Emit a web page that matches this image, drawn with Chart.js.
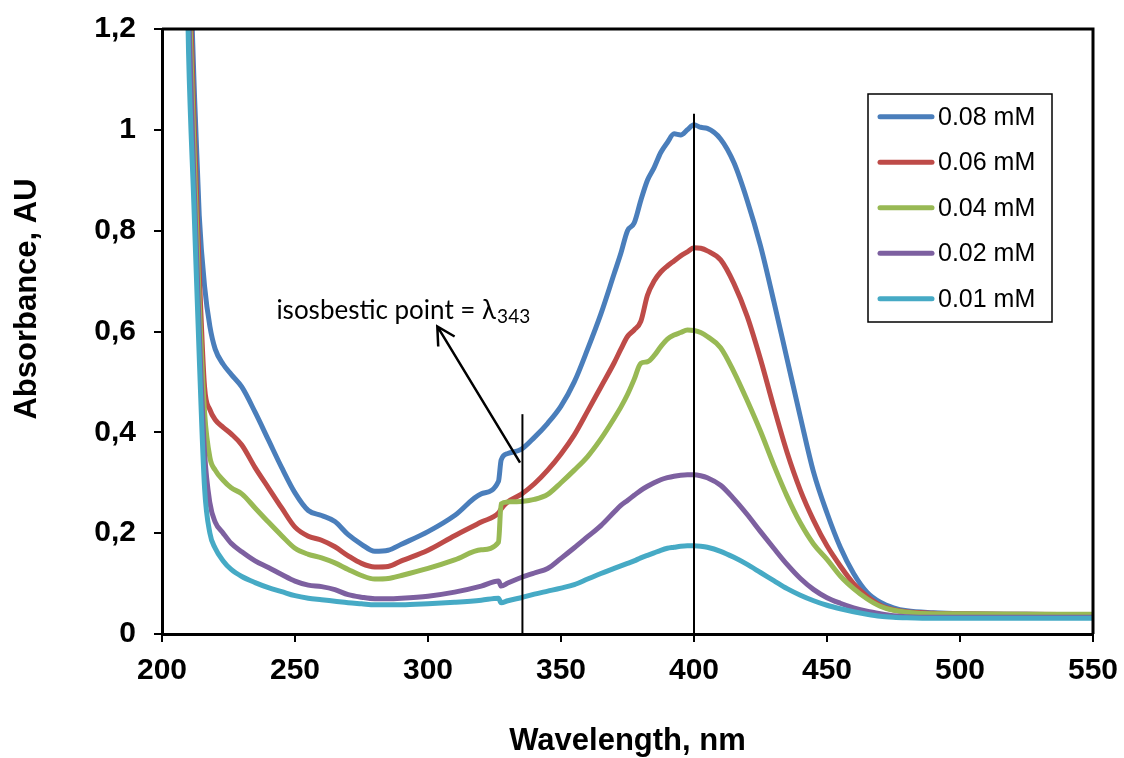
<!DOCTYPE html>
<html lang="en">
<head>
    <meta charset="UTF-8">
    <title>Absorbance vs Wavelength</title>
    <script src="https://cdn.jsdelivr.net/npm/chart.js"></script>
    <style>
        html, body { margin: 0; padding: 0; background: #fff; }
        #wrap { width: 1124px; height: 758px; }
    </style>
</head>
<body>
    <div id="wrap"><canvas id="spectra"></canvas></div>

    <script>
        // wavelength grid (nm), shared by every series
        const wavelengths = [208, 210, 212, 214, 216, 218, 220, 223, 226, 230,
            235, 240, 245, 250, 255, 260, 265, 270, 275, 280,
            285, 290, 300, 310, 320, 326.5, 327.5, 330, 335, 340,
            345, 350, 355, 360, 365, 370, 372.5, 375, 377.5, 380,
            382.5, 385, 387.5, 390, 392.5, 395, 397.5, 400, 402.5, 405,
            410, 415, 420, 425, 430, 435, 440, 445, 450, 455,
            460, 465, 470, 475, 480, 490, 500, 525, 550];

        // absorbance
        const abs008 = [1.7, 1.42, 1.1, 0.83, 0.69, 0.61, 0.565, 0.535, 0.515, 0.49,
            0.44, 0.385, 0.33, 0.28, 0.245, 0.235, 0.223, 0.197, 0.178, 0.164,
            0.166, 0.178, 0.203, 0.235, 0.278, 0.303, 0.345, 0.358, 0.366, 0.39,
            0.418, 0.452, 0.5, 0.565, 0.635, 0.715, 0.755, 0.8, 0.815, 0.86,
            0.9, 0.925, 0.955, 0.975, 0.992, 0.99, 1.0, 1.01, 1.005, 1.003,
            0.982, 0.935, 0.86, 0.77, 0.66, 0.545, 0.43, 0.32, 0.24, 0.172,
            0.12, 0.083, 0.063, 0.052, 0.046, 0.042, 0.04, 0.039, 0.038];
        const abs006 = [1.7, 1.36, 1.02, 0.72, 0.49, 0.445, 0.425, 0.41, 0.397, 0.375,
            0.33, 0.29, 0.25, 0.212, 0.194, 0.186, 0.173, 0.155, 0.14, 0.133,
            0.134, 0.145, 0.166, 0.195, 0.222, 0.24, 0.248, 0.262, 0.277, 0.298,
            0.325, 0.357, 0.395, 0.442, 0.49, 0.538, 0.565, 0.59, 0.603, 0.62,
            0.672, 0.7, 0.718, 0.73, 0.74, 0.75, 0.758, 0.766, 0.765, 0.76,
            0.742, 0.695, 0.63, 0.545, 0.45, 0.36, 0.285, 0.225, 0.175, 0.135,
            0.1, 0.075, 0.057, 0.048, 0.044, 0.041, 0.04, 0.039, 0.038];
        const abs004 = [1.7, 1.3, 0.97, 0.66, 0.44, 0.35, 0.325, 0.305, 0.29, 0.278,
            0.25, 0.222, 0.195, 0.17, 0.158, 0.151, 0.141, 0.128, 0.116, 0.109,
            0.11, 0.116, 0.13, 0.147, 0.167, 0.182, 0.258, 0.262, 0.263, 0.267,
            0.277, 0.3, 0.325, 0.352, 0.387, 0.428, 0.45, 0.475, 0.505, 0.537,
            0.54, 0.552, 0.57, 0.585, 0.593, 0.598, 0.603, 0.602, 0.598, 0.59,
            0.568, 0.52, 0.463, 0.402, 0.335, 0.273, 0.22, 0.178, 0.148, 0.115,
            0.09, 0.07, 0.055, 0.047, 0.043, 0.04, 0.04, 0.039, 0.039];
        const abs002 = [1.7, 1.24, 0.9, 0.6, 0.36, 0.26, 0.222, 0.2, 0.18, 0.163,
            0.145, 0.132, 0.118, 0.105, 0.097, 0.094, 0.088, 0.078, 0.073, 0.07,
            0.07, 0.071, 0.075, 0.083, 0.095, 0.105, 0.095, 0.101, 0.112, 0.121,
            0.13, 0.15, 0.171, 0.193, 0.215, 0.242, 0.255, 0.265, 0.275, 0.285,
            0.293, 0.3, 0.306, 0.31, 0.313, 0.315, 0.316, 0.316, 0.314, 0.31,
            0.295, 0.268, 0.237, 0.203, 0.17, 0.138, 0.11, 0.088, 0.072, 0.061,
            0.052, 0.045, 0.04, 0.036, 0.034, 0.033, 0.033, 0.033, 0.033];
        const abs001 = [1.7, 1.15, 0.85, 0.55, 0.29, 0.2, 0.17, 0.145, 0.128, 0.114,
            0.102, 0.092, 0.084, 0.076, 0.071, 0.068, 0.065, 0.062, 0.06, 0.058,
            0.058, 0.058, 0.06, 0.063, 0.067, 0.071, 0.062, 0.066, 0.072, 0.079,
            0.085, 0.091, 0.098, 0.109, 0.12, 0.13, 0.135, 0.14, 0.145, 0.151,
            0.156, 0.161, 0.166, 0.17, 0.172, 0.174, 0.175, 0.175, 0.174, 0.172,
            0.164, 0.152, 0.138, 0.122, 0.106, 0.09, 0.077, 0.066, 0.057, 0.05,
            0.044, 0.039, 0.035, 0.033, 0.032, 0.031, 0.031, 0.031, 0.031];

        const seriesLabels = ['0.08 mM', '0.06 mM', '0.04 mM', '0.02 mM', '0.01 mM'];
        const seriesValues = [abs008, abs006, abs004, abs002, abs001];
        const seriesColors = ['#4a7ebb', '#be4b48', '#98b954', '#7d60a0', '#46aac5'];

        const yTickLabels = ['0', '0,2', '0,4', '0,6', '0,8', '1', '1,2'];
        const xTickLabels = ['200', '250', '300', '350', '400', '450', '500', '550'];

        // annotation anchors, in data units
        const isoLine = { x: 335.5, top: 0.436 };
        const peakLine = { x: 400, top: 1.032 };
        const isoArrow = { fromX: 334.6, fromY: 0.34, toX: 303.5, toY: 0.61 };
        const isoLabel = { x: 243, y: 0.624, text: 'isosbestic point = \u03bb', sub: '343' };

        const AXIS_FONT = 'Liberation Sans, Arial, sans-serif';

        // top/right frame, reference lines, arrow and label
        const overlayPlugin = {
            id: 'overlay',
            afterDatasetsDraw(chart) {
                const { ctx, chartArea: a, scales: { x, y } } = chart;
                ctx.save();
                ctx.strokeStyle = '#000';
                ctx.lineCap = 'butt';

                ctx.lineWidth = 2;
                [isoLine, peakLine].forEach(l => {
                    ctx.beginPath();
                    ctx.moveTo(x.getPixelForValue(l.x), y.getPixelForValue(l.top));
                    ctx.lineTo(x.getPixelForValue(l.x), y.getPixelForValue(0));
                    ctx.stroke();
                });

                // arrow
                const x1 = x.getPixelForValue(isoArrow.fromX), y1 = y.getPixelForValue(isoArrow.fromY);
                const x2 = x.getPixelForValue(isoArrow.toX), y2 = y.getPixelForValue(isoArrow.toY);
                const ang = Math.atan2(y1 - y2, x1 - x2);
                ctx.lineWidth = 2.5;
                ctx.beginPath();
                ctx.moveTo(x1, y1);
                ctx.lineTo(x2, y2);
                ctx.moveTo(x2 + 20 * Math.cos(ang - 0.5), y2 + 20 * Math.sin(ang - 0.5));
                ctx.lineTo(x2, y2);
                ctx.lineTo(x2 + 20 * Math.cos(ang + 0.5), y2 + 20 * Math.sin(ang + 0.5));
                ctx.stroke();

                // label with subscript
                const lx = x.getPixelForValue(isoLabel.x), ly = y.getPixelForValue(isoLabel.y);
                ctx.fillStyle = '#000';
                ctx.textBaseline = 'alphabetic';
                ctx.textAlign = 'left';
                ctx.font = '26px Lato, "Open Sans", sans-serif';
                ctx.fillText(isoLabel.text, lx, ly);
                const w = ctx.measureText(isoLabel.text).width;
                ctx.font = '19px Lato, "Open Sans", sans-serif';
                ctx.fillText(isoLabel.sub, lx + w + 1, ly + 4);

                // frame: top and right
                ctx.lineWidth = 3;
                ctx.beginPath();
                ctx.moveTo(a.left, a.top);
                ctx.lineTo(a.right, a.top);
                ctx.lineTo(a.right, a.bottom);
                ctx.stroke();
                ctx.restore();
            },
            afterDraw(chart) {
                const ctx = chart.ctx;
                ctx.save();

                // y axis title
                ctx.translate(27, 299);
                ctx.rotate(-Math.PI / 2);
                ctx.fillStyle = '#000';
                ctx.font = 'bold 31px ' + AXIS_FONT;
                ctx.textAlign = 'center';
                ctx.textBaseline = 'middle';
                ctx.fillText('Absorbance, AU', 0, 0);
                ctx.setTransform(1, 0, 0, 1, 0, 0);

                // legend box inside the plot
                const box = { left: 868, top: 94, width: 184, height: 228 };
                const rowH = 45.5;
                ctx.fillStyle = '#fff';
                ctx.fillRect(box.left, box.top, box.width, box.height);
                ctx.strokeStyle = '#000';
                ctx.lineWidth = 1.5;
                ctx.strokeRect(box.left, box.top, box.width, box.height);
                ctx.font = '25px ' + AXIS_FONT;
                ctx.textAlign = 'left';
                ctx.textBaseline = 'middle';
                chart.data.datasets.forEach((ds, i) => {
                    const cy = box.top + 22.7 + i * rowH;
                    ctx.strokeStyle = ds.borderColor;
                    ctx.lineWidth = 5;
                    ctx.lineCap = 'round';
                    ctx.beginPath();
                    ctx.moveTo(box.left + 12, cy);
                    ctx.lineTo(box.left + 64, cy);
                    ctx.stroke();
                    ctx.fillStyle = '#000';
                    ctx.fillText(ds.label, box.left + 70, cy + 1);
                });
                ctx.restore();
            }
        };

        const datasets = seriesLabels.map((label, i) => ({
            label: label,
            data: wavelengths.map((w, j) => ({ x: w, y: seriesValues[i][j] })),
            borderColor: seriesColors[i],
            borderWidth: 5,
            borderCapStyle: 'round',
            borderJoinStyle: 'round',
            pointRadius: 0,
            cubicInterpolationMode: 'monotone',
            fill: false,
            clip: 0,
            order: seriesLabels.length - 1 - i
        }));

        const ctx = document.getElementById('spectra').getContext('2d');
        const chart = new Chart(ctx, {
            type: 'line',
            data: { datasets: datasets },
            options: {
                responsive: true,
                maintainAspectRatio: false,
                animation: false,
                layout: { padding: { top: 29, right: 31, left: 0, bottom: 0 } },
                plugins: {
                    legend: { display: false },
                    tooltip: { enabled: false }
                },
                scales: {
                    x: {
                        type: 'linear',
                        min: 200,
                        max: 550,
                        ticks: {
                            stepSize: 50,
                            color: '#000',
                            padding: 11,
                            maxRotation: 0,
                            font: { family: AXIS_FONT, size: 30, weight: 'bold' },
                            callback: v => xTickLabels[Math.round((v - 200) / 50)]
                        },
                        grid: { drawOnChartArea: false, tickLength: 8, color: '#000', lineWidth: 2 },
                        border: { color: '#000', width: 3 },
                        title: {
                            display: true,
                            text: 'Wavelength, nm',
                            color: '#000',
                            font: { family: AXIS_FONT, size: 31, weight: 'bold', lineHeight: 1 },
                            padding: { top: 0, bottom: 1 }
                        },
                        afterFit: s => {
                            s.height = 124;
                            s.paddingLeft = 0;
                            s.paddingRight = 0;
                        }
                    },
                    y: {
                        min: 0,
                        max: 1.2,
                        ticks: {
                            stepSize: 0.2,
                            color: '#000',
                            padding: 18,
                            font: { family: AXIS_FONT, size: 30, weight: 'bold' },
                            callback: v => yTickLabels[Math.round(v / 0.2)]
                        },
                        grid: { drawOnChartArea: false, tickLength: 8, color: '#000', lineWidth: 2 },
                        border: { color: '#000', width: 3 },
                        afterFit: s => {
                            s.width = 162;
                            s.paddingTop = 0;
                            s.paddingBottom = 0;
                        }
                    }
                }
            },
            plugins: [overlayPlugin]
        });
    </script>
</body>
</html>
